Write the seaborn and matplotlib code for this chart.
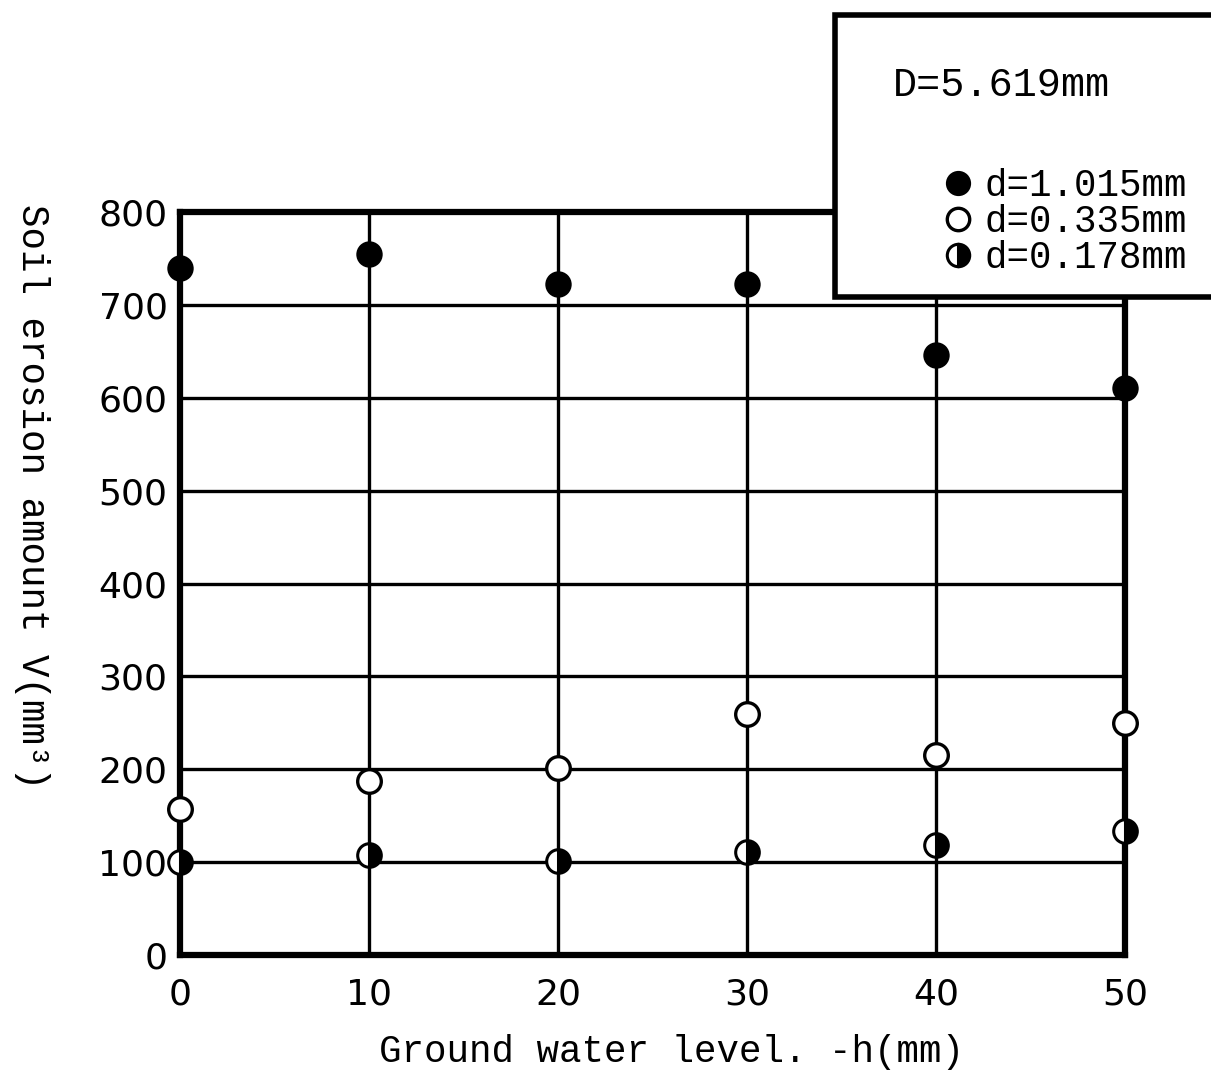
import matplotlib
matplotlib.use("Agg")
import matplotlib.pyplot as plt
import seaborn as sns
import pandas as pd
from matplotlib.patches import Rectangle

# Data
water_level = [0, 10, 20, 30, 40, 50]
v_d1015 = [740, 755, 722, 723, 646, 610]
v_d0335 = [157, 187, 201, 259, 215, 250]
v_d0178 = [100, 108, 101, 111, 118, 133]
labels = ["d=1.015mm", "d=0.335mm", "d=0.178mm"]
x_ticks = [0, 10, 20, 30, 40, 50]
y_ticks = [0, 100, 200, 300, 400, 500, 600, 700, 800]

sns.set_style("white")
plt.rcParams['font.family'] = ['DejaVu Sans']

W, H = 1211, 1077
fig = plt.figure(figsize=(W / 100, H / 100), dpi=100)
ax = fig.add_axes([180 / W, 1 - 955 / H, (1125 - 180) / W, (955 - 212) / H])

df = pd.DataFrame({"x": water_level, "a": v_d1015, "b": v_d0335, "c": v_d0178})

ms = 17
sns.lineplot(data=df, x="x", y="a", ax=ax, linestyle="", marker="o", markersize=ms,
             color="black", markerfacecolor="black", markeredgecolor="black",
             markeredgewidth=2, clip_on=False, zorder=5, label=labels[0])
sns.lineplot(data=df, x="x", y="b", ax=ax, linestyle="", marker="o", markersize=ms,
             color="black", markerfacecolor="white", markeredgecolor="black",
             markeredgewidth=2.4, clip_on=False, zorder=5, label=labels[1])
sns.lineplot(data=df, x="x", y="c", ax=ax, linestyle="", marker="o", markersize=ms,
             color="black", fillstyle="right", markerfacecolor="black",
             markerfacecoloralt="white", markeredgecolor="black",
             markeredgewidth=2.2, clip_on=False, zorder=5, label=labels[2])

ax.set_xlim(0, 50)
ax.set_ylim(0, 800)
ax.set_xticks(x_ticks)
ax.set_yticks(y_ticks)
ax.grid(True, color="black", linewidth=2.4)
for s in ax.spines.values():
    s.set_visible(True)
    s.set_color("black")
    s.set_linewidth(4.5)
ax.tick_params(axis="both", length=0, labelsize=26, colors="black")
ax.tick_params(axis="x", pad=16)
ax.tick_params(axis="y", pad=9)
ax.set_xlabel("")
ax.set_ylabel("")

mono = ["Liberation Mono", "DejaVu Sans Mono"]
fig.text(672 / W, 1 - 1052 / H, "Ground water level. -h(mm)", ha="center", va="center",
         fontsize=27, family=mono, color="black")
fig.text(32 / W, 1 - 497 / H, "Soil erosion amount V(mm³)", ha="center", va="center",
         rotation=-90, fontsize=27, family=mono, color="black")

# Legend box
rect = Rectangle((835 / W, 1 - 297 / H), (1220 - 835) / W, (297 - 15) / H,
                 transform=fig.transFigure, facecolor="white", edgecolor="black",
                 linewidth=4, zorder=10, clip_on=False)
fig.add_artist(rect)
fig.text(893 / W, 1 - 85 / H, "D=5.619mm", ha="left", va="center", fontsize=29,
         family=mono, zorder=11, color="black")

handles, labs = ax.get_legend_handles_labels()
if ax.get_legend():
    ax.get_legend().remove()
leg = fig.legend(handles, labs, loc="upper left", bbox_to_anchor=(928 / W, 1 - 149 / H),
                 bbox_transform=fig.transFigure, frameon=False,
                 prop={"family": mono, "size": 27}, handlelength=0.6, handletextpad=0.4,
                 labelspacing=0.0, borderpad=0, markerscale=0.95)
for txt in leg.get_texts():
    txt.set_color("black")
leg.set_zorder(12)

fig.savefig("out.png", dpi=100, facecolor="white")
